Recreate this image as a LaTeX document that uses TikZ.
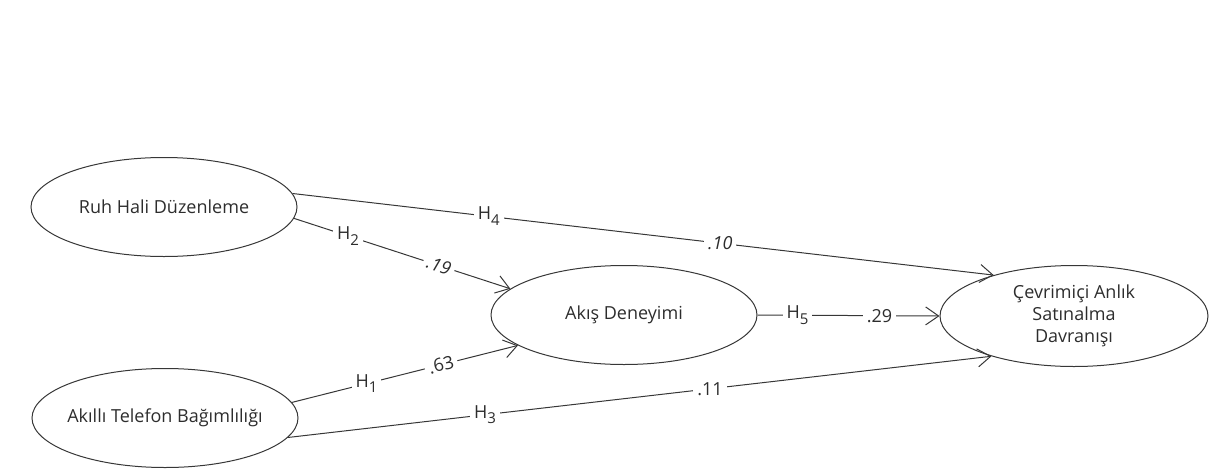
\documentclass[tikz,border=0pt]{standalone}
\usepackage{fontspec}
\setmainfont{Open Sans}
\usepackage{tikz}
\usetikzlibrary{arrows.meta,positioning,shapes.geometric}
\definecolor{pathgray}{RGB}{55,55,55}
\definecolor{inkgray}{RGB}{45,45,45}
\newcommand{\hsub}[1]{H\raisebox{-0.6ex}{\fontsize{15}{15}\selectfont #1}}

\begin{document}
\begin{tikzpicture}[x=1pt, y=-1pt,
    construct/.style={ellipse, draw=pathgray, line width=1pt, inner sep=0pt,
      inner xsep=-40pt, minimum width=266pt, minimum height=99pt,
      align=center, text=inkgray, font=\fontsize{18}{22}\selectfont},
    effect/.style={draw=pathgray, line width=1pt,
      -{Straight Barb[length=13pt, width=18pt, line width=1pt]}},
    coef/.style={fill=white, inner sep=4pt, text=inkgray,
      font=\fontsize{18}{21}\selectfont},
    coefit/.style={coef, font=\fontsize{18}{21}\selectfont\itshape}]
  \useasboundingbox (0,0) rectangle (1226,474);

  % Latent constructs
  \node[construct] (ruh) at (164,207) {Ruh Hali Düzenleme};
  \node[construct] (akl) at (165,418) {Akıllı Telefon Bağımlılığı};
  \node[construct] (aki) at (624,315) {Akış Deneyimi};
  \node[construct, minimum width=268pt, minimum height=101pt] (cev) at (1074,316)
    {Çevrimiçi Anlık\\Satınalma\\Davranışı};

  % Hypothesised paths
  \draw[effect] (ruh.6) -- node[coef, pos=0.28] {\hsub{4}}
    node[coefit, pos=0.61] {.10} (cev.153);
  \draw[effect] (ruh.-5) -- node[coef, pos=0.25] {\hsub{2}}
    node[coefit, pos=0.67, sloped] {.19} (aki.167);
  \draw[effect] (akl.7) -- node[coef, pos=0.33] {\hsub{1}}
    node[coef, pos=0.66, sloped] {.63} (aki.196);
  \draw[effect] (akl.-9) -- node[coef, pos=0.28] {\hsub{3}}
    node[coef, pos=0.60] {.11} (cev.206);
  \draw[effect] (aki.east) -- node[coef, pos=0.22] {\hsub{5}}
    node[coef, pos=0.67] {.29} (cev.west);
\end{tikzpicture}
\end{document}
